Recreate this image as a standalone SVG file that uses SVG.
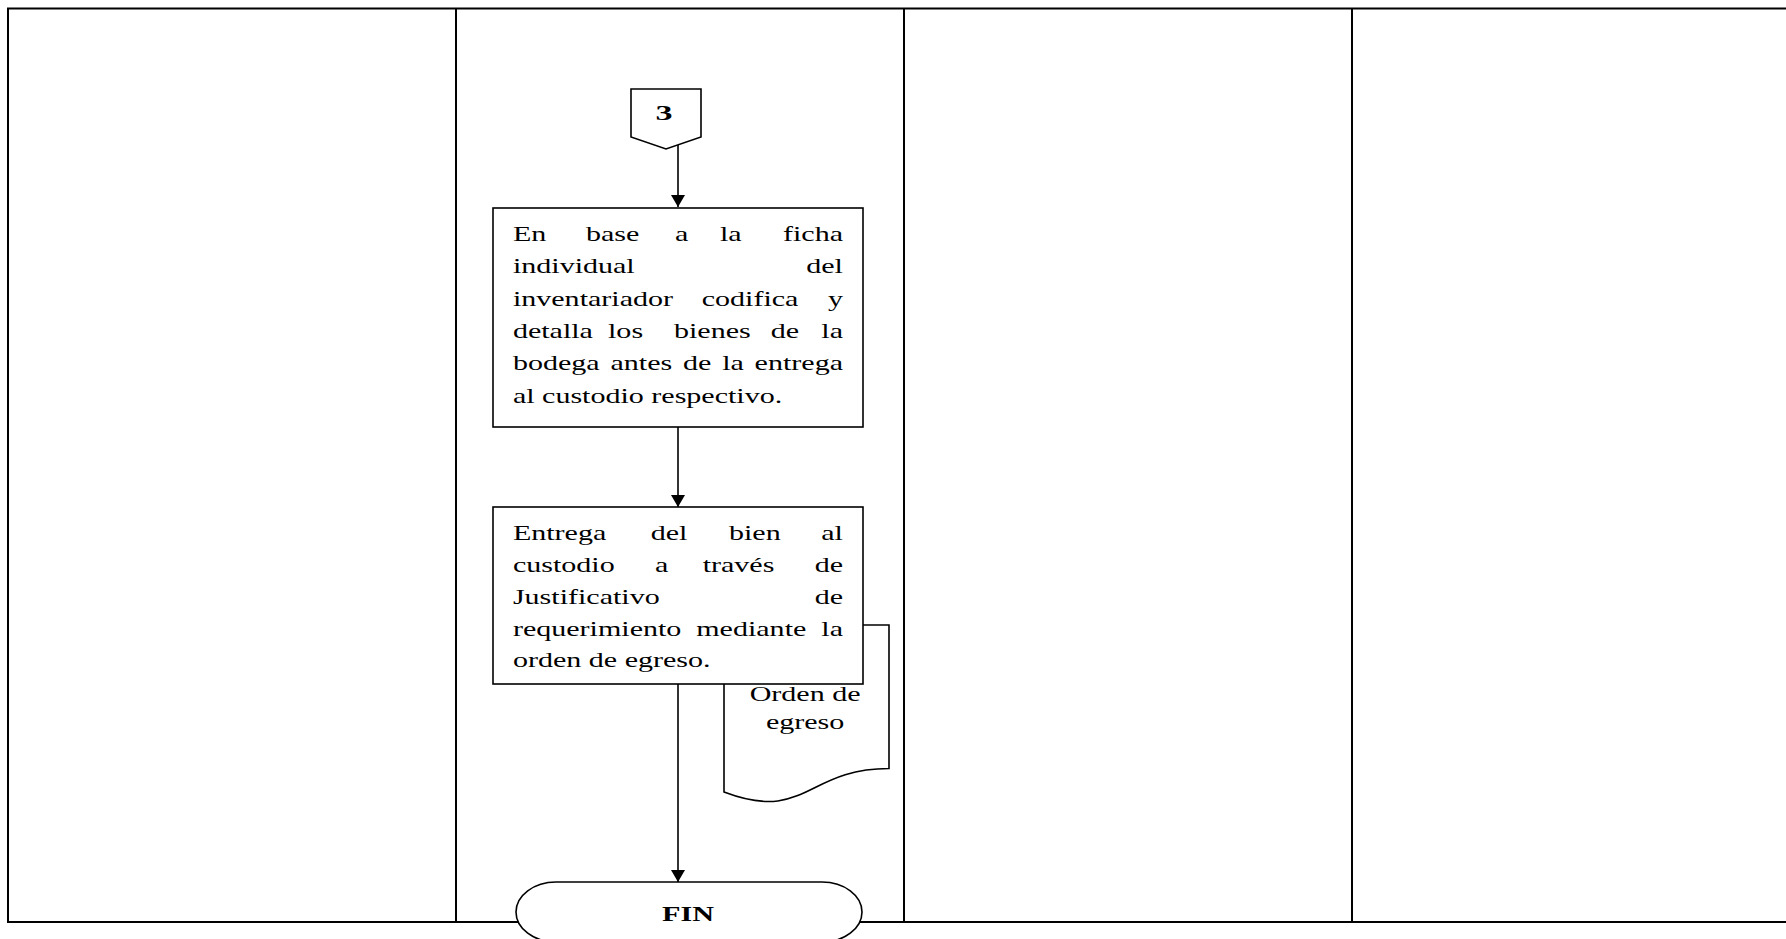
<svg xmlns="http://www.w3.org/2000/svg" width="1786" height="939" viewBox="0 0 1786 939">
  <style>
    .lane{fill:none;stroke:#000;stroke-width:2}
    .shape{fill:#fff;stroke:#000;stroke-width:1.6}
    .flow{fill:none;stroke:#000;stroke-width:1.6;marker-end:url(#arrow)}
    .t{font-family:"Liberation Serif","Times New Roman",serif;font-size:21px;fill:#000}
    .e{text-anchor:end}
    .m{text-anchor:middle}
    .b{font-weight:bold}
  </style>
  <defs>
    <marker id="arrow" markerUnits="userSpaceOnUse" markerWidth="12" markerHeight="14" refX="12" refY="7" orient="auto">
      <path d="M0,0 L12,7 L0,14 Z" fill="#000"/>
    </marker>
  </defs>
  <rect width="1786" height="939" fill="#fff"/>

  <!-- swimlane frame -->
  <g id="lanes">
    <rect class="lane" x="8" y="8.5" width="1800" height="913.5"/>
    <line class="lane" x1="456" y1="8.5" x2="456" y2="922"/>
    <line class="lane" x1="904" y1="8.5" x2="904" y2="922"/>
    <line class="lane" x1="1352" y1="8.5" x2="1352" y2="922"/>
  </g>

  <!-- connectors -->
  <g id="connectors">
    <line class="flow" x1="678" y1="145" x2="678" y2="207"/>
    <line class="flow" x1="678" y1="427" x2="678" y2="507"/>
    <line class="flow" x1="678" y1="684" x2="678" y2="882"/>
  </g>

  <!-- off-page connector 3 -->
  <g id="offpage3">
    <polygon class="shape" points="631,89 701,89 701,137 666,149 631,137"/>
    <text class="t b m" x="664" y="120" font-size="27" textLength="17" lengthAdjust="spacingAndGlyphs">3</text>
  </g>

  <!-- document: Orden de egreso -->
  <g id="doc-orden">
    <path class="shape" d="M724,625 L889,625 L889,768.5 C806,768.5 806,823 724,792 Z"/>
    <g transform="scale(1.43 1)">
      <text class="t m" x="563" y="701">Orden de</text>
      <text class="t m" x="563" y="729">egreso</text>
    </g>
  </g>

  <!-- step 1 -->
  <g id="step1">
    <rect class="shape" x="493" y="208" width="370" height="219"/>
    <g transform="scale(1.43 1)">
      <text class="t" x="358.7" y="241">En</text>
      <text class="t" x="409.8" y="241">base</text>
      <text class="t" x="472" y="241">a</text>
      <text class="t" x="503.5" y="241">la</text>
      <text class="t e" x="589.5" y="241">ficha</text>
      <text class="t" x="358.7" y="273.5">individual</text>
      <text class="t e" x="589.5" y="273.5">del</text>
      <text class="t" x="358.7" y="306">inventariador</text>
      <text class="t" x="490.7" y="306">codifica</text>
      <text class="t e" x="589.5" y="306">y</text>
      <text class="t" x="358.7" y="338">detalla</text>
      <text class="t" x="425.2" y="338">los</text>
      <text class="t" x="471.3" y="338">bienes</text>
      <text class="t" x="539" y="338">de</text>
      <text class="t e" x="589.5" y="338">la</text>
      <text class="t" x="358.7" y="370.5">bodega</text>
      <text class="t" x="426.9" y="370.5">antes</text>
      <text class="t" x="477.6" y="370.5">de</text>
      <text class="t" x="505" y="370.5">la</text>
      <text class="t e" x="589.5" y="370.5">entrega</text>
      <text class="t" x="358.7" y="403">al custodio respectivo.</text>
    </g>
  </g>

  <!-- step 2 -->
  <g id="step2">
    <rect class="shape" x="493" y="507" width="370" height="177"/>
    <g transform="scale(1.43 1)">
      <text class="t" x="358.7" y="540">Entrega</text>
      <text class="t" x="455" y="540">del</text>
      <text class="t" x="509.8" y="540">bien</text>
      <text class="t e" x="589.5" y="540">al</text>
      <text class="t" x="358.7" y="572">custodio</text>
      <text class="t" x="458" y="572">a</text>
      <text class="t" x="491.4" y="572">través</text>
      <text class="t e" x="589.5" y="572">de</text>
      <text class="t" x="358.7" y="604">Justificativo</text>
      <text class="t e" x="589.5" y="604">de</text>
      <text class="t" x="358.7" y="636">requerimiento</text>
      <text class="t" x="486.9" y="636">mediante</text>
      <text class="t e" x="589.5" y="636">la</text>
      <text class="t" x="358.7" y="667">orden de egreso.</text>
    </g>
  </g>

  <!-- terminator FIN -->
  <g id="fin">
    <rect class="shape" x="516" y="882" width="346" height="60" rx="40" ry="30"/>
    <text class="t b m" x="688" y="921" font-size="25" textLength="52" lengthAdjust="spacingAndGlyphs">FIN</text>
  </g>
</svg>
